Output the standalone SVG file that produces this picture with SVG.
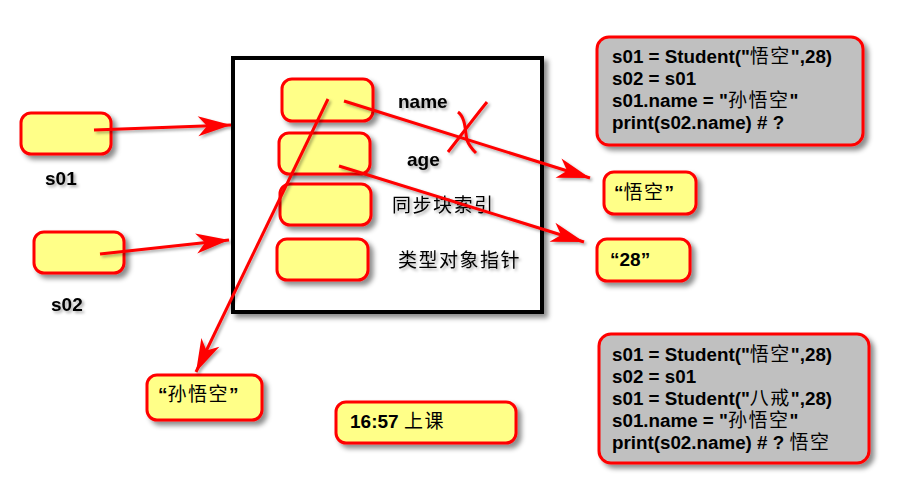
<svg xmlns="http://www.w3.org/2000/svg" width="913" height="498" viewBox="0 0 913 498">
<style>
.box{fill:#ffff88;stroke:#ff0000;stroke-width:3}
.code{fill:#c0c0c0;stroke:#ff0000;stroke-width:3}
.lbl{font-family:"Liberation Sans","Noto Sans CJK SC",sans-serif;font-weight:bold;font-size:19px;fill:#000}
.cjk{font-family:"Liberation Sans","Noto Sans CJK SC",sans-serif;font-size:19px;letter-spacing:1.5px;fill:#000}
.ct{font-family:"Liberation Sans","Noto Sans CJK SC",sans-serif;font-weight:bold;font-size:18.8px;fill:#000}
.n{font-weight:normal;font-size:19px;letter-spacing:1.5px}
.conn{stroke:#ff0000;stroke-width:3;fill:none}
</style>
<defs>
<filter id="sh" x="-20%" y="-20%" width="140%" height="150%">
<feDropShadow dx="4" dy="4" stdDeviation="2.5" flood-color="#000" flood-opacity="0.45"/>
</filter>
<filter id="tsh" x="-20%" y="-20%" width="140%" height="150%">
<feDropShadow dx="2" dy="2" stdDeviation="1.5" flood-color="#000" flood-opacity="0.35"/>
</filter>
<marker id="ah" markerUnits="userSpaceOnUse" markerWidth="36" markerHeight="22" refX="34" refY="11" orient="auto" viewBox="0 0 36 22">
<path d="M34,11 L1,1 L10,11 L1,21 Z" fill="#ff0000"/>
</marker>
</defs>
<rect width="913" height="498" fill="#ffffff"/>

<g id="object" filter="url(#sh)">
<rect x="233" y="58" width="309" height="254" fill="#ffffff" stroke="#000" stroke-width="4"/>
</g>
<g id="field-name"><rect class="box" x="282" y="79" width="91" height="42" rx="10" filter="url(#sh)"/><text class="lbl" x="398" y="108" filter="url(#tsh)">name</text></g>
<g id="field-age"><rect class="box" x="279" y="133" width="91" height="41" rx="10" filter="url(#sh)"/><text class="lbl" x="407" y="166" filter="url(#tsh)">age</text></g>
<g id="field-sync"><rect class="box" x="280" y="184" width="91" height="41" rx="10" filter="url(#sh)"/><text class="cjk" x="392" y="212" filter="url(#tsh)">同步块索引</text></g>
<g id="field-type"><rect class="box" x="277" y="239" width="91" height="41" rx="10" filter="url(#sh)"/><text class="cjk" x="398" y="267" filter="url(#tsh)">类型对象指针</text></g>

<g id="s01"><rect class="box" x="21" y="113" width="90" height="41" rx="10" filter="url(#sh)"/><text class="lbl" x="45" y="185" filter="url(#tsh)">s01</text></g>
<g id="s02"><rect class="box" x="34" y="232" width="90" height="41" rx="10" filter="url(#sh)"/><text class="lbl" x="51" y="311" filter="url(#tsh)">s02</text></g>

<g id="str-wukong"><rect class="box" x="604" y="172" width="92" height="42" rx="10" filter="url(#sh)"/><text class="lbl" x="614" y="199">“<tspan class="n">悟空</tspan>”</text></g>
<g id="str-28"><rect class="box" x="597" y="239" width="93" height="42" rx="10" filter="url(#sh)"/><text class="lbl" x="610" y="266">“28”</text></g>
<g id="str-sunwukong"><rect class="box" x="147" y="375" width="115" height="45" rx="10" filter="url(#sh)"/><text class="lbl" x="158" y="401">“<tspan class="n">孙悟空</tspan>”</text></g>
<g id="time"><rect class="box" x="336" y="402" width="180" height="41" rx="10" filter="url(#sh)"/><text class="lbl" x="350" y="428">16:57 <tspan class="n">上课</tspan></text></g>

<g id="code1">
<rect class="code" x="597" y="37" width="266" height="108" rx="12" filter="url(#sh)"/>
<text class="ct" x="612" y="63">s01 = Student("<tspan class="n">悟空</tspan>",28)</text>
<text class="ct" x="612" y="85">s02 = s01</text>
<text class="ct" x="612" y="107">s01.name = "<tspan class="n">孙悟空</tspan>"</text>
<text class="ct" x="612" y="129">print(s02.name) # ?</text>
</g>
<g id="code2">
<rect class="code" x="599" y="334" width="270" height="129" rx="12" filter="url(#sh)"/>
<text class="ct" x="612" y="361">s01 = Student("<tspan class="n">悟空</tspan>",28)</text>
<text class="ct" x="612" y="383">s02 = s01</text>
<text class="ct" x="612" y="405">s01 = Student("<tspan class="n">八戒</tspan>",28)</text>
<text class="ct" x="612" y="427">s01.name = "<tspan class="n">孙悟空</tspan>"</text>
<text class="ct" x="612" y="449">print(s02.name) # ? <tspan class="n">悟空</tspan></text>
</g>

<g id="connectors" filter="url(#tsh)">
<line class="conn" x1="94" y1="130" x2="231" y2="125" marker-end="url(#ah)"/>
<line class="conn" x1="100" y1="254" x2="229" y2="240" marker-end="url(#ah)"/>
<line class="conn" x1="344" y1="101" x2="590" y2="178" marker-end="url(#ah)"/>
<line class="conn" x1="339" y1="166" x2="584" y2="242" marker-end="url(#ah)"/>
<line class="conn" x1="328" y1="99" x2="196" y2="372" marker-end="url(#ah)"/>
<path class="conn" d="M487,102 C474,118 462,134 448,152"/>
<path class="conn" d="M458,112 C466,118 465,132 467,140 C469,146 473,150 476,153"/>
</g>
</svg>
